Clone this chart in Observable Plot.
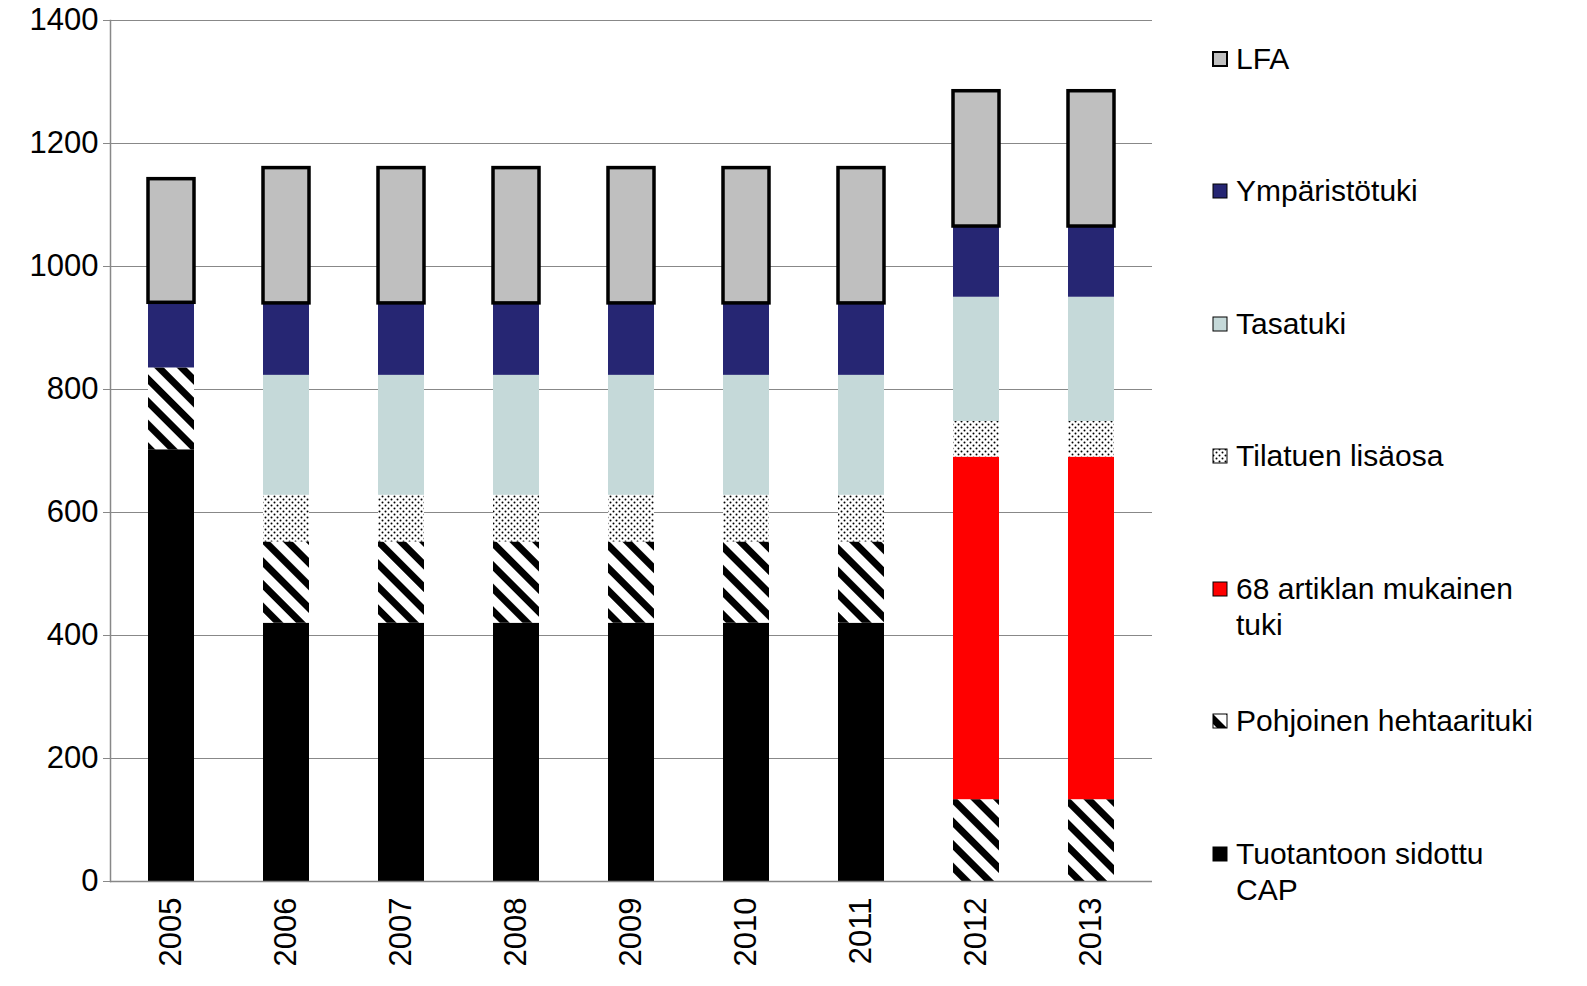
<!DOCTYPE html>
<html>
<head>
<meta charset="utf-8">
<script src="https://cdn.jsdelivr.net/npm/d3@7"></script>
<script src="https://cdn.jsdelivr.net/npm/@observablehq/plot@0.6"></script>
<style>
  html, body { margin: 0; background: #fff; overflow: hidden; font-family: "Liberation Sans", Arial, sans-serif; }
  #wrap { position: relative; width: 1587px; height: 986px; overflow: hidden; }
  #chart svg { display: block; }
  #legend { position: absolute; left: 1212px; top: 0; }
  .item { position: absolute; left: 0; font-size: 30px; line-height: 36px; color: #000; display: flex; }
  .item span { width: 308px; }
  .item svg { flex: none; margin-top: 10px; margin-right: 8px; }
</style>
</head>
<body>
<svg width="0" height="0" style="position:absolute">
  <defs>
    <pattern id="stripes" patternUnits="userSpaceOnUse" width="16" height="16" patternTransform="rotate(45)">
      <rect width="16" height="16" fill="#fff"></rect>
      <rect x="0" y="0" width="16" height="7" fill="#000"></rect>
    </pattern>
    <pattern id="dots" patternUnits="userSpaceOnUse" width="6" height="6">
      <rect width="6" height="6" fill="#fff"></rect>
      <circle cx="1.5" cy="1.5" r="1" fill="#000"></circle>
      <circle cx="4.5" cy="4.5" r="1" fill="#000"></circle>
    </pattern>
  </defs>
</svg>
<div id="wrap"><div id="chart"></div><div id="legend"></div></div>
<script>
const years = ["2005","2006","2007","2008","2009","2010","2011","2012","2013"];
const series = ["Tuotantoon sidottu CAP","Pohjoinen hehtaarituki","68 artiklan mukainen tuki","Tilatuen lisäosa","Tasatuki","Ympäristötuki","LFA"];
const fills = ["#000000","url(#stripes)","#ff0000","url(#dots)","#c5d9d9","#262673","#bfbfbf"];
const cap        = [702, 420, 420, 420, 420, 420, 420, 0, 0];
const pohjoinen  = [133, 132, 132, 132, 132, 132, 132, 133, 133];
const art68      = [0, 0, 0, 0, 0, 0, 0, 557, 557];
const tilatuen   = [0, 76, 76, 76, 76, 76, 76, 58, 58];
const tasatuki   = [0, 195, 195, 195, 195, 195, 195, 202, 202];
const ymparisto  = [106, 117, 117, 117, 117, 117, 117, 115, 115];
const lfa        = [201, 220, 220, 220, 220, 220, 220, 220, 220];
const values = [cap, pohjoinen, art68, tilatuen, tasatuki, ymparisto, lfa];

const rows = [];
years.forEach((y, i) => {
  let base = 0;
  series.forEach((s, k) => {
    const v = values[k][i];
    if (v > 0) rows.push({year: y, series: s, y1: base, y2: base + v, fill: fills[k], lfa: s === "LFA"});
    base += v;
  });
});

const chart = Plot.plot({
  width: 1160, height: 986,
  marginTop: 20, marginBottom: 105, marginLeft: 110, marginRight: 8,
  style: {fontFamily: "Liberation Sans, Arial, sans-serif", fontSize: "31px", color: "#000"},
  x: {domain: years, paddingInner: 0.6, paddingOuter: 0.3, label: null},
  y: {domain: [0, 1400], label: null},
  marks: [
    Plot.gridY(d3.range(200, 1401, 200), {stroke: "#888", strokeOpacity: 1, strokeWidth: 1.2}),
    Plot.rectY(rows.filter(d => !d.lfa), {x: "year", y1: "y1", y2: "y2", fill: "fill"}),
    Plot.rectY(rows.filter(d => d.lfa), {x: "year", y1: "y1", y2: "y2", fill: "fill", stroke: "#000", strokeWidth: 3.5}),
    Plot.ruleY([0], {stroke: "#888", strokeWidth: 1.5}),
    Plot.frame({anchor: "left", stroke: "#888", strokeWidth: 1.5}),
    Plot.axisY({ticks: d3.range(0, 1401, 200), tickSize: 7, tickPadding: 5, stroke: "#888", fontSize: 31, tickFormat: d => String(d)}),
    Plot.axisX({tickRotate: -90, tickSize: 0, tickPadding: 16, fontSize: 31})
  ]
});
document.getElementById("chart").append(chart);

const legendTop = [41, 173, 306, 438, 571, 703, 836];
const legend = d3.select("#legend");
series.slice().reverse().forEach((s, j) => {
  const k = series.length - 1 - j;
  const item = legend.append("div").attr("class", "item").style("top", legendTop[j] + "px");
  const sw = item.append("svg").attr("width", 16).attr("height", 16);
  sw.append("rect").attr("x", 1).attr("y", 1).attr("width", 14).attr("height", 14)
    .attr("fill", fills[k]).attr("stroke", "#000").attr("stroke-width", k === 6 ? 2 : 1);
  item.append("span").text(s);
});
</script>
</body>
</html>
